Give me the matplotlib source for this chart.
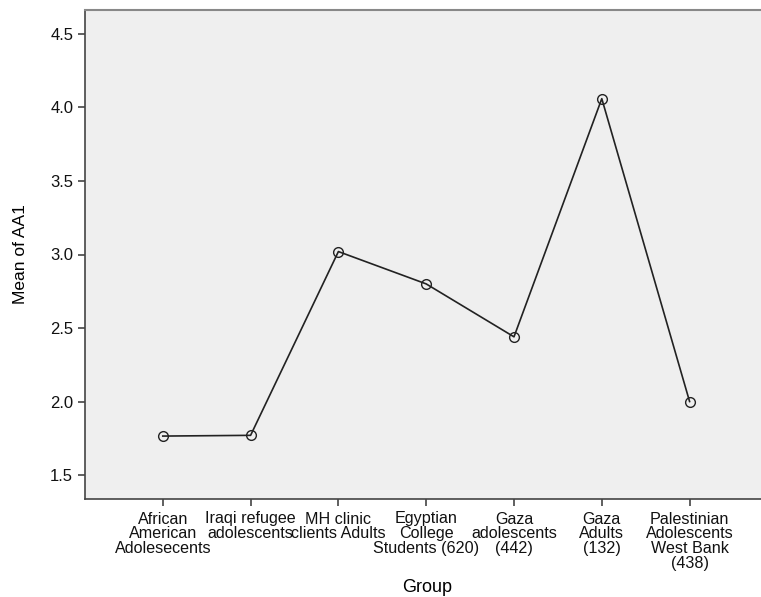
import matplotlib
matplotlib.use("Agg")
import matplotlib.pyplot as plt

groups = ["African\nAmerican\nAdolesecents", "Iraqi refugee\nadolescents", "MH clinic\nclients Adults",
          "Egyptian\nCollege\nStudents (620)", "Gaza\nadolescents\n(442)", "Gaza\nAdults\n(132)",
          "Palestinian\nAdolescents\nWest Bank\n(438)"]
means = [1.765, 1.77, 3.02, 2.80, 2.44, 4.06, 2.00]
yticks = [1.5, 2.0, 2.5, 3.0, 3.5, 4.0, 4.5]

plt.rcParams['font.family'] = ['Liberation Sans', 'DejaVu Sans']
fig = plt.figure(figsize=(7.61, 5.97), dpi=100)
ax = fig.add_axes([85/761, 98/597, 1 - 85/761 + 0.01, 489/597])
ax.set_facecolor('#efefef')
x = list(range(len(groups)))
ax.plot(x, means, color='#222222', lw=1.2, marker='o', markersize=7,
        markerfacecolor='none', markeredgecolor='#222222', markeredgewidth=1.0)
ax.set_xlim(-0.886, 6.9)
ax.set_ylim(1.337, 4.663)
ax.set_yticks(yticks)
ax.set_yticklabels([f"{v:.1f}" for v in yticks], fontsize=12)
ax.set_xticks(x)
ax.set_xticklabels(groups, fontsize=11.6, linespacing=0.98)
ax.tick_params(direction='out', length=5, width=1.2, color='#444444', labelcolor='#111111')
ax.tick_params(axis='x', pad=4)
for s in ['left', 'bottom']:
    ax.spines[s].set_color('#444444')
    ax.spines[s].set_linewidth(1.2)
ax.spines['top'].set_color('#888888')
ax.spines['top'].set_linewidth(1.5)
ax.spines['right'].set_visible(False)
ax.set_ylabel("Mean of AA1", fontsize=12.5, labelpad=16)
ax.set_xlabel("Group", fontsize=13, labelpad=6)
fig.savefig("out.png", dpi=100)
